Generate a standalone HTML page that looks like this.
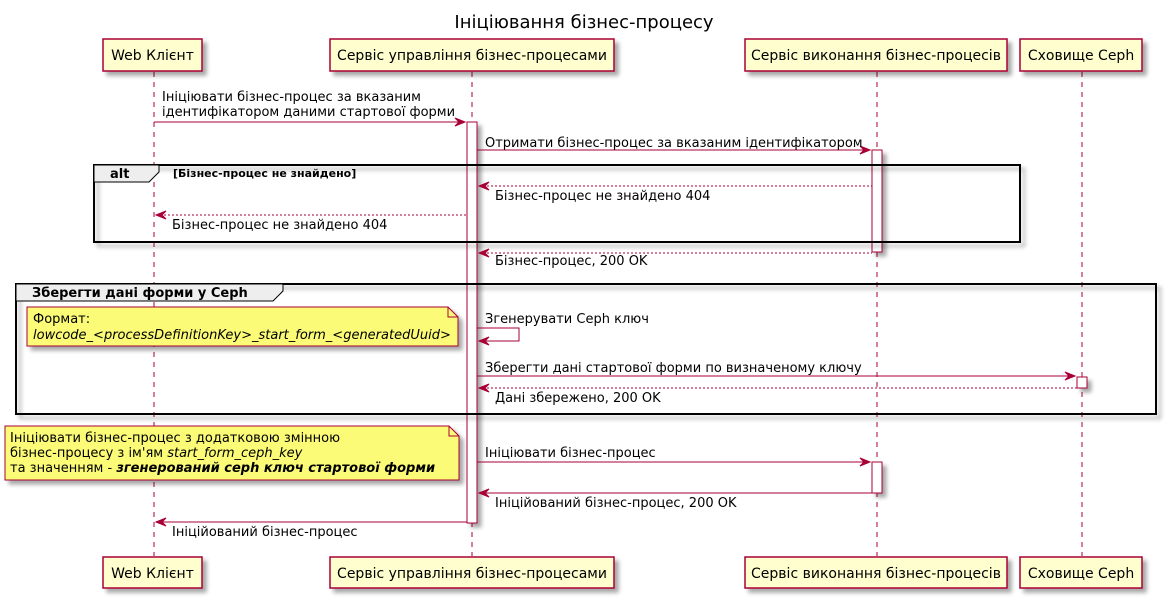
<!DOCTYPE html>
<html><head><meta charset="utf-8"><style>
html,body{margin:0;padding:0;background:#fff;}
svg{display:block;font-family:"DejaVu Sans","Liberation Sans",sans-serif;}
</style></head><body>
<svg width="1168" height="600" viewBox="0 0 1168 600" xmlns="http://www.w3.org/2000/svg">
<defs><filter id="sh" x="-10%" y="-10%" width="130%" height="140%"><feGaussianBlur in="SourceAlpha" stdDeviation="2"/><feOffset dx="4" dy="4"/><feComponentTransfer><feFuncA type="linear" slope="0.35"/></feComponentTransfer><feMerge><feMergeNode/><feMergeNode in="SourceGraphic"/></feMerge></filter></defs>
<text x="584" y="28" font-size="18" text-anchor="middle">Ініціювання бізнес-процесу</text>

<!-- lifelines -->
<g stroke="#A80036" stroke-width="1" stroke-dasharray="5,5">
<line x1="154" y1="72" x2="154" y2="556"/>
<line x1="472" y1="72" x2="472" y2="556"/>
<line x1="877" y1="72" x2="877" y2="556"/>
<line x1="1082" y1="72" x2="1082" y2="556"/>
</g>

<!-- participants -->
<g fill="#FEFECE" stroke="#A80036" stroke-width="1.5" filter="url(#sh)">
<rect x="103" y="39" width="99" height="32"/>
<rect x="330" y="39" width="284" height="32"/>
<rect x="745" y="39" width="262" height="32"/>
<rect x="1020" y="39" width="122" height="32"/>
<rect x="103" y="557" width="99" height="31"/>
<rect x="330" y="557" width="284" height="31"/>
<rect x="745" y="557" width="262" height="31"/>
<rect x="1020" y="557" width="122" height="31"/>
</g>
<g font-size="14" text-anchor="middle" fill="#000">
<text x="152.5" y="60">Web Клієнт</text>
<text x="472" y="60">Сервіс управління бізнес-процесами</text>
<text x="876" y="60">Сервіс виконання бізнес-процесів</text>
<text x="1081" y="60">Сховище Ceph</text>
<text x="152.5" y="578">Web Клієнт</text>
<text x="472" y="578">Сервіс управління бізнес-процесами</text>
<text x="876" y="578">Сервіс виконання бізнес-процесів</text>
<text x="1081" y="578">Сховище Ceph</text>
</g>

<!-- activations -->
<g fill="#fff" stroke="#A80036" stroke-width="1" filter="url(#sh)">
<rect x="467" y="122" width="10" height="401"/>
<rect x="872" y="150" width="10" height="102"/>
<rect x="1077" y="377" width="10" height="11"/>
<rect x="872" y="462" width="10" height="31"/>
</g>

<!-- alt frame -->
<g filter="url(#sh)"><rect x="94" y="165" width="926" height="77" fill="none" stroke="#000" stroke-width="2"/></g>
<path d="M94,165 L159,165 L159,172 L149,182 L94,182 Z" fill="#EEEEEE" stroke="#000" stroke-width="1"/>
<text x="110" y="178" font-size="13" font-weight="bold">alt</text>
<text x="173" y="177" font-size="11" font-weight="bold">[Бізнес-процес не знайдено]</text>

<!-- group frame -->
<g filter="url(#sh)"><rect x="16" y="284" width="1140" height="130" fill="none" stroke="#000" stroke-width="2"/></g>
<path d="M16,284 L283,284 L283,291 L273,301 L16,301 Z" fill="#EEEEEE" stroke="#000" stroke-width="1"/>
<text x="32" y="297" font-size="13" font-weight="bold">Зберегти дані форми у Ceph</text>

<!-- notes -->
<g fill="#FBFB77" stroke="#A80036" stroke-width="1" filter="url(#sh)">
<path d="M27,307 L448,307 L458,317 L458,346 L27,346 Z"/>
<path d="M5,426 L449,426 L459,436 L459,480 L5,480 Z"/>
</g>
<g fill="none" stroke="#A80036"><path d="M448,307 L448,317 L458,317"/><path d="M449,426 L449,436 L459,436"/></g>
<g font-size="13">
<text x="33" y="323">Формат:</text>
<text x="33" y="339" font-style="italic">lowcode_&lt;processDefinitionKey&gt;_start_form_&lt;generatedUuid&gt;</text>
<text x="10" y="442">Ініціювати бізнес-процес з додатковою змінною</text>
<text x="10" y="457">бізнес-процесу з ім'ям <tspan font-style="italic">start_form_ceph_key</tspan></text>
<text x="10" y="472">та значенням - <tspan font-style="italic" font-weight="bold">згенерований ceph ключ стартової форми</tspan></text>
</g>

<!-- messages -->
<g stroke="#A80036" stroke-width="1" fill="none">
<line x1="154" y1="122" x2="465" y2="122"/>
<line x1="477" y1="150" x2="870" y2="150"/>
<line x1="479" y1="186" x2="872" y2="186" stroke-dasharray="2,2"/>
<line x1="156" y1="215" x2="467" y2="215" stroke-dasharray="2,2"/>
<line x1="479" y1="253" x2="872" y2="253" stroke-dasharray="2,2"/>
<path d="M477,328 L519,328 L519,341 L479,341"/>
<line x1="477" y1="376" x2="1075" y2="376"/>
<line x1="479" y1="388" x2="1077" y2="388" stroke-dasharray="2,2"/>
<line x1="477" y1="462" x2="870" y2="462"/>
<line x1="479" y1="493" x2="872" y2="493"/>
<line x1="156" y1="522" x2="467" y2="522"/>
</g>
<g fill="#A80036" stroke="#A80036" stroke-width="1">
<path d="M465,122 l-10,-4 l4,4 l-4,4 z"/>
<path d="M870,150 l-10,-4 l4,4 l-4,4 z"/>
<path d="M479,186 l10,-4 l-4,4 l4,4 z"/>
<path d="M156,215 l10,-4 l-4,4 l4,4 z"/>
<path d="M479,253 l10,-4 l-4,4 l4,4 z"/>
<path d="M479,341 l10,-4 l-4,4 l4,4 z"/>
<path d="M1075,376 l-10,-4 l4,4 l-4,4 z"/>
<path d="M479,388 l10,-4 l-4,4 l4,4 z"/>
<path d="M870,462 l-10,-4 l4,4 l-4,4 z"/>
<path d="M479,493 l10,-4 l-4,4 l4,4 z"/>
<path d="M156,522 l10,-4 l-4,4 l4,4 z"/>
</g>
<g font-size="13" fill="#000">
<text x="162" y="101">Ініціювати бізнес-процес за вказаним</text>
<text x="162" y="116">ідентифікатором даними стартової форми</text>
<text x="485" y="147">Отримати бізнес-процес за вказаним ідентифікатором</text>
<text x="495" y="200">Бізнес-процес не знайдено 404</text>
<text x="172" y="229">Бізнес-процес не знайдено 404</text>
<text x="495" y="265">Бізнес-процес, 200 OK</text>
<text x="485" y="323">Згенерувати Ceph ключ</text>
<text x="485" y="372">Зберегти дані стартової форми по визначеному ключу</text>
<text x="495" y="402">Дані збережено, 200 OK</text>
<text x="485" y="457">Ініціювати бізнес-процес</text>
<text x="495" y="507">Ініційований бізнес-процес, 200 OK</text>
<text x="172" y="536">Ініційований бізнес-процес</text>
</g>
</svg>
</body></html>
